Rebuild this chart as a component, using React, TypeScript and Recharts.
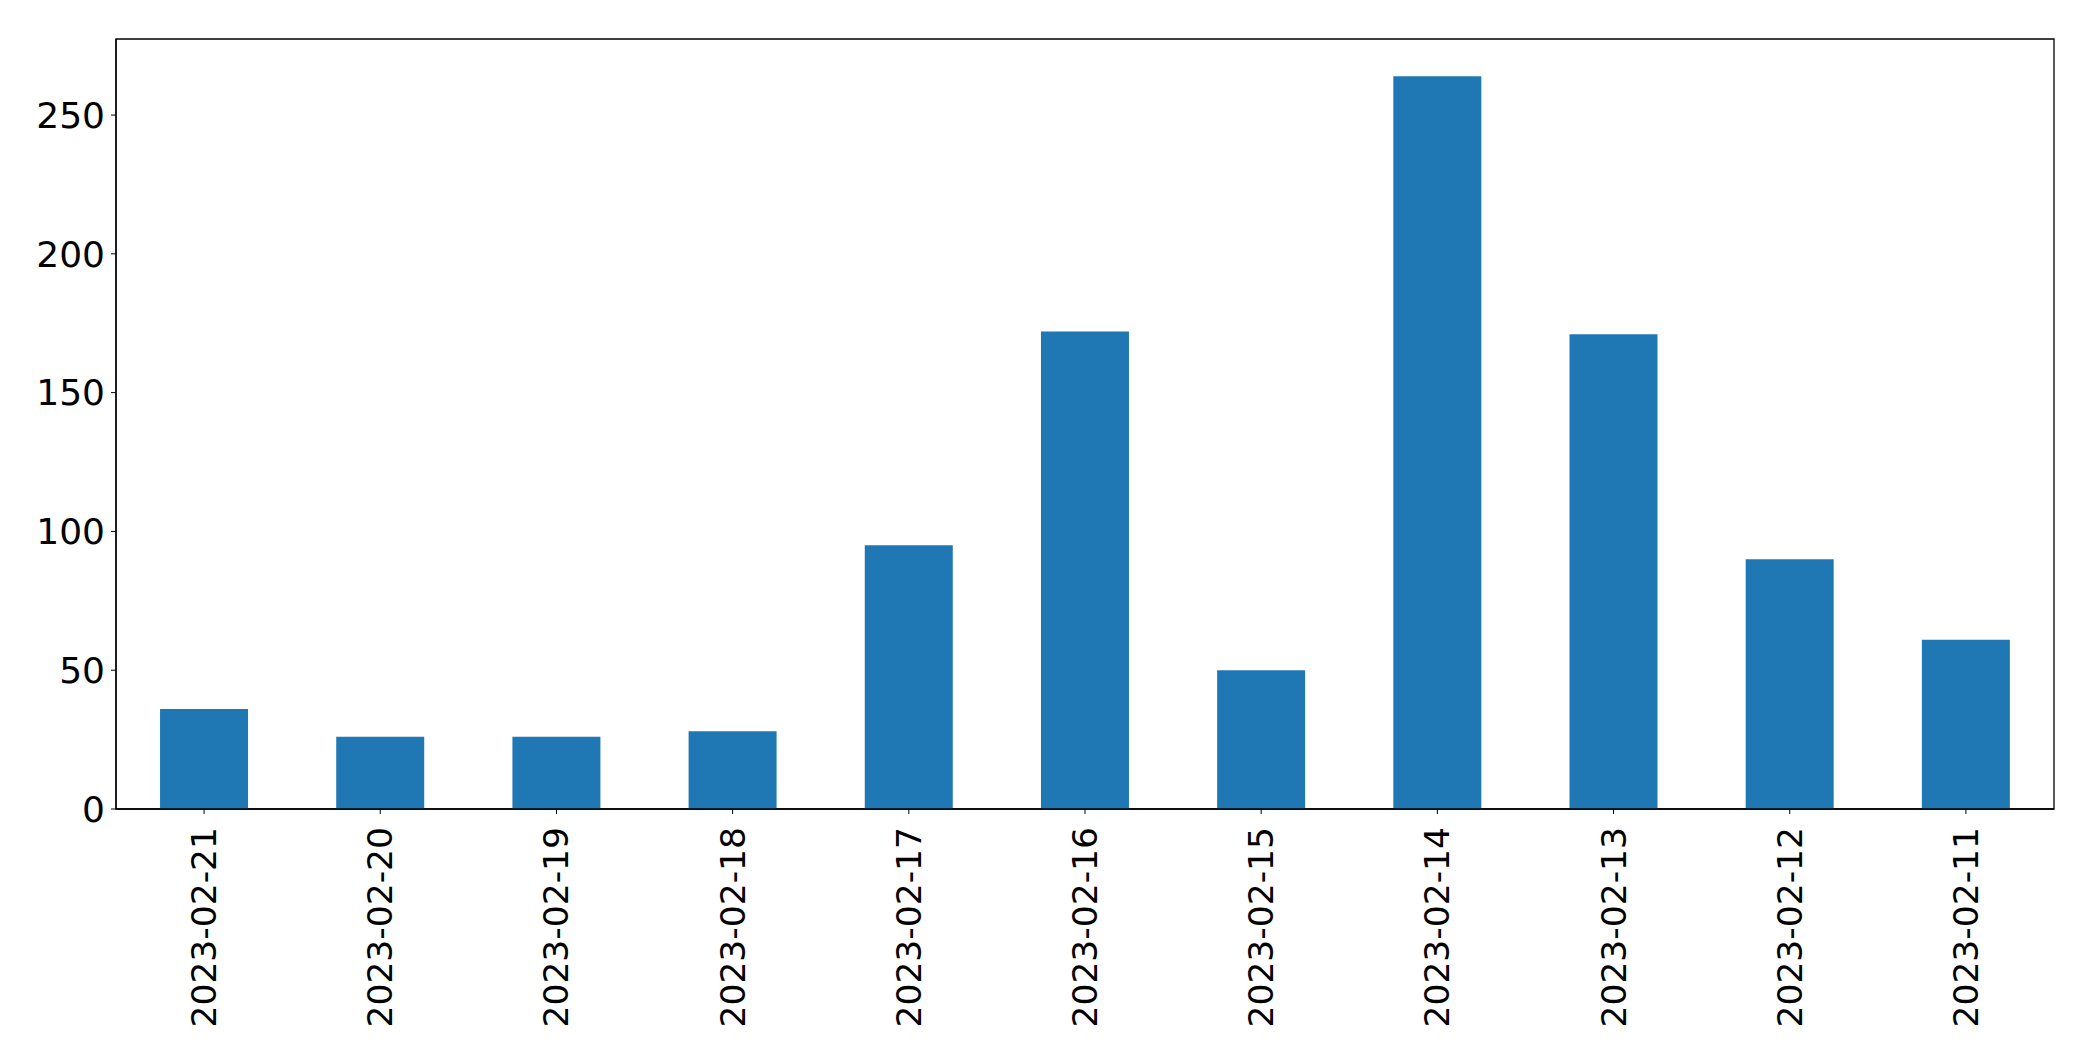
import { BarChart, Bar, XAxis, YAxis, ReferenceArea } from 'recharts';

const dates = [
  '2023-02-21', '2023-02-20', '2023-02-19', '2023-02-18', '2023-02-17', '2023-02-16',
  '2023-02-15', '2023-02-14', '2023-02-13', '2023-02-12', '2023-02-11',
];
const counts = [36, 26, 26, 28, 95, 172, 50, 264, 171, 90, 61];
const yTicks = [0, 50, 100, 150, 200, 250];
const yMax = 277.4;

const rows = dates.map((d, i) => ({ date: d, count: counts[i] }));

const FONT = '"DejaVu Sans", sans-serif';

function DateTick({ x, y, payload }: any) {
  const ty = y + 11;
  return (
    <text
      x={x}
      y={ty}
      transform={`rotate(-90, ${x}, ${ty})`}
      textAnchor="end"
      dominantBaseline="central"
      fontFamily={FONT}
      fontSize={34.5}
      fill="#000"
    >
      {payload.value}
    </text>
  );
}

export default function App() {
  return (
    <div style={{ position: 'absolute', left: 0, top: 0, background: '#fff' }}>
      <BarChart
        width={2093}
        height={1061}
        data={rows}
        margin={{ top: 39, right: 39, left: 0, bottom: 0 }}
        barCategoryGap="25%"
      >
        <XAxis
          dataKey="date"
          height={252}
          interval={0}
          tick={<DateTick />}
          tickSize={5}
          tickLine={{ stroke: '#000' }}
          axisLine={{ stroke: '#000', strokeWidth: 1.3 }}
        />
        <YAxis
          width={116}
          domain={[0, yMax]}
          ticks={yTicks}
          tickSize={5}
          tickMargin={6}
          tickLine={{ stroke: '#000' }}
          axisLine={{ stroke: '#000', strokeWidth: 1.3 }}
          tick={{ fill: '#000', fontSize: 36, fontFamily: FONT }}
        />
        <ReferenceArea
          y1={0}
          y2={yMax}
          fill="none"
          fillOpacity={0}
          stroke="#000"
          strokeWidth={1.3}
          ifOverflow="visible"
        />
        <Bar dataKey="count" fill="#1f77b4" isAnimationActive={false} />
      </BarChart>
    </div>
  );
}
